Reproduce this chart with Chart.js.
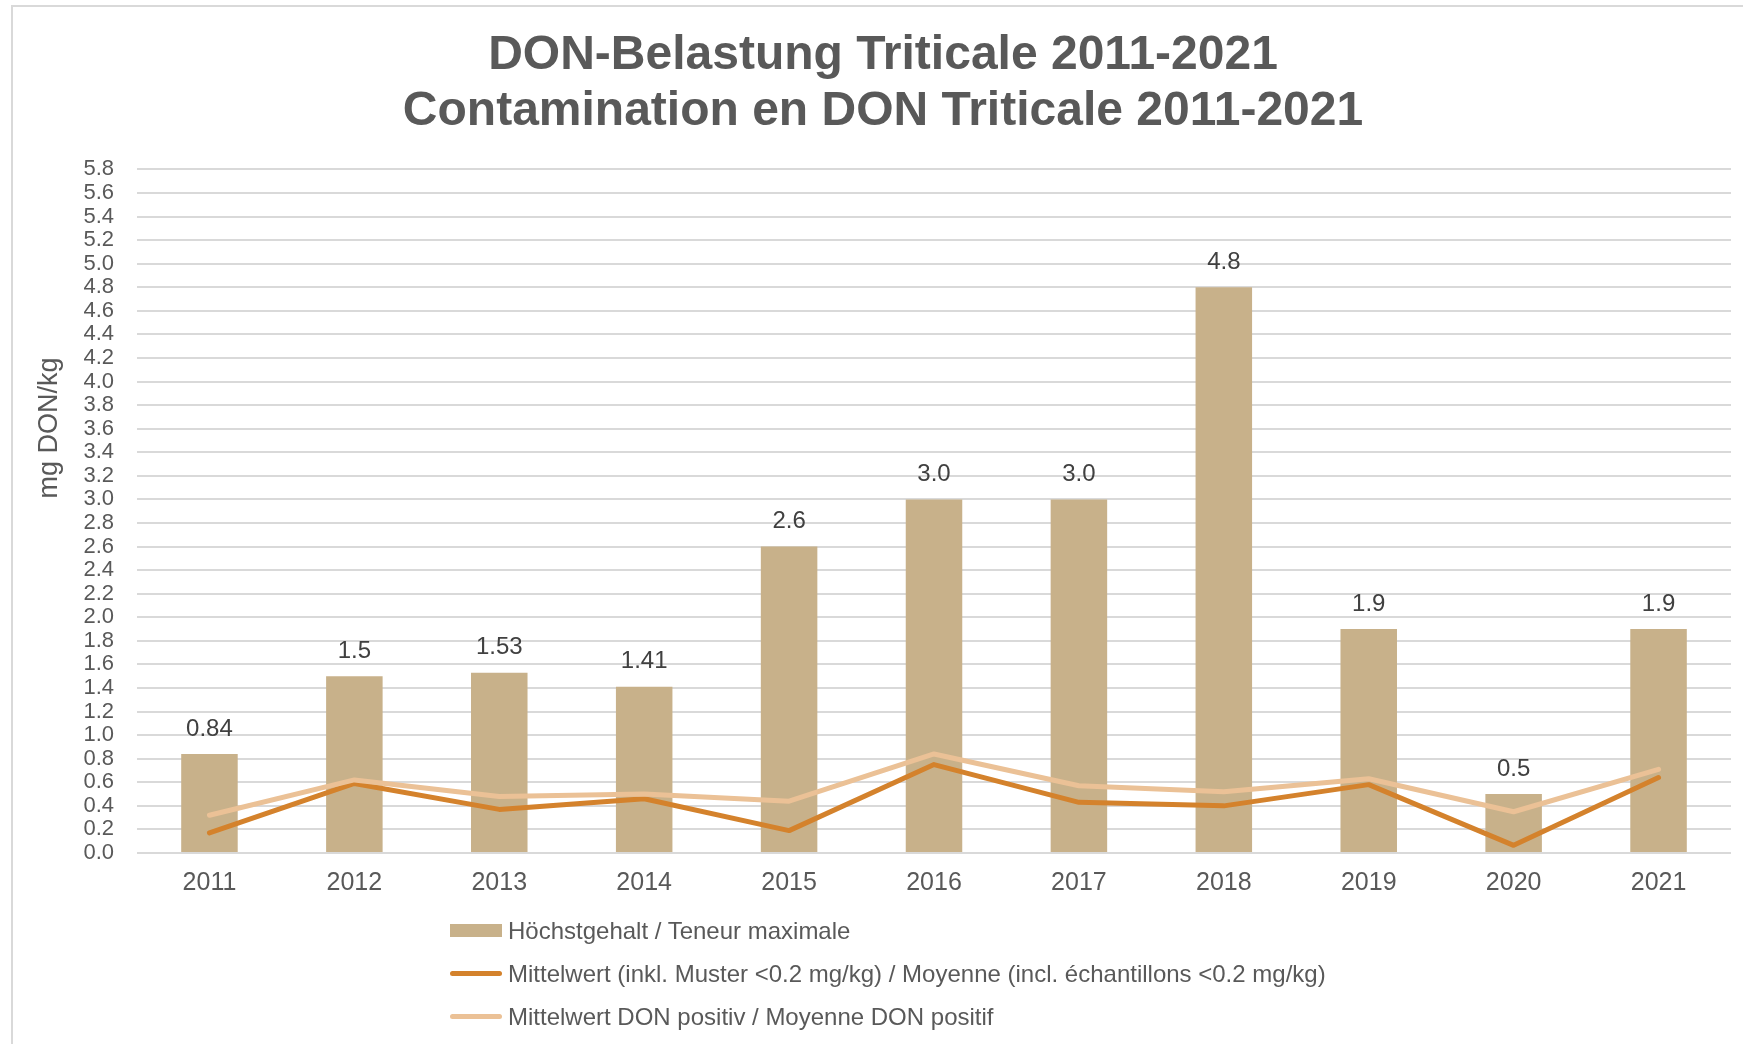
<!DOCTYPE html>
<html>
<head>
<meta charset="utf-8">
<script src="https://cdn.jsdelivr.net/npm/chart.js@4.4.1/dist/chart.umd.min.js"></script>
<style>
  html, body { margin: 0; padding: 0; background: #fff; }
  body { width: 1743px; height: 1044px; position: relative; overflow: hidden; font-family: "Liberation Sans", Arial, sans-serif; }
  #frame { position: absolute; left: 11px; top: 5px; right: -10px; bottom: -10px; border-left: 2px solid #D9D9D9; border-top: 2px solid #D9D9D9; }
  #chart { position: absolute; left: 0; top: 0; }
  #legend { position: absolute; left: 450px; top: 909px; color: #595959; font-size: 24px; }
  .item { display: flex; align-items: center; height: 43px; }
  .swatch { width: 52px; margin-right: 6px; }
</style>
</head>
<body>
<div id="frame"></div>
<canvas id="chart" width="1743" height="1044"></canvas>
<div id="legend"></div>
<script>
// data
const years = ['2011', '2012', '2013', '2014', '2015', '2016', '2017', '2018', '2019', '2020', '2021'];
const maxValues = [0.84, 1.5, 1.53, 1.41, 2.6, 3.0, 3.0, 4.8, 1.9, 0.5, 1.9];
const meanAll = [0.17, 0.59, 0.37, 0.46, 0.19, 0.75, 0.43, 0.40, 0.58, 0.065, 0.64];
const meanPositive = [0.32, 0.62, 0.48, 0.50, 0.44, 0.84, 0.57, 0.52, 0.63, 0.35, 0.71];
const yMin = 0;
const yMax = 5.8;
const yStep = 0.2;
const yTitle = 'mg DON/kg';

const barColor = '#C8B18A';
const darkLine = '#D4822C';
const lightLine = '#EBC196';
const textColor = '#595959';
const fontFamily = '"Liberation Sans", Arial, sans-serif';

// value labels above bars
const barLabels = {
  id: 'barLabels',
  afterDatasetsDraw(chart) {
    const ctx = chart.ctx;
    const meta = chart.getDatasetMeta(0);
    ctx.save();
    ctx.font = '24px ' + fontFamily;
    ctx.fillStyle = '#404040';
    ctx.textAlign = 'center';
    ctx.textBaseline = 'middle';
    meta.data.forEach(function (bar, i) {
      const v = maxValues[i];
      const s = (Math.round(v * 10) === v * 10) ? v.toFixed(1) : v.toFixed(2);
      ctx.fillText(s, bar.x, bar.y - 25);
    });
    ctx.restore();
  }
};

// y axis title sits higher than the middle of the axis in the original
const axisTitle = {
  id: 'axisTitle',
  afterDraw(chart) {
    const ctx = chart.ctx;
    ctx.save();
    ctx.translate(50, 428);
    ctx.rotate(-Math.PI / 2);
    ctx.font = '27px ' + fontFamily;
    ctx.fillStyle = textColor;
    ctx.textAlign = 'center';
    ctx.textBaseline = 'middle';
    ctx.fillText(yTitle, 0, 0);
    ctx.restore();
  }
};

const chart = new Chart(document.getElementById('chart'), {
  type: 'bar',
  data: {
    labels: years,
    datasets: [
      {
        type: 'bar',
        label: 'Höchstgehalt / Teneur maximale',
        data: maxValues,
        backgroundColor: barColor,
        categoryPercentage: 1,
        barPercentage: 0.39,
        order: 3
      },
      {
        type: 'line',
        label: 'Mittelwert (inkl. Muster <0.2 mg/kg) / Moyenne (incl. échantillons <0.2 mg/kg)',
        data: meanAll,
        borderColor: darkLine,
        backgroundColor: darkLine,
        borderWidth: 5,
        pointRadius: 0,
        tension: 0,
        borderCapStyle: 'round',
        borderJoinStyle: 'round',
        order: 2
      },
      {
        type: 'line',
        label: 'Mittelwert DON positiv / Moyenne DON positif',
        data: meanPositive,
        borderColor: lightLine,
        backgroundColor: lightLine,
        borderWidth: 5,
        pointRadius: 0,
        tension: 0,
        borderCapStyle: 'round',
        borderJoinStyle: 'round',
        order: 1
      }
    ]
  },
  options: {
    responsive: false,
    animation: false,
    layout: { padding: { left: 35, right: 12, top: 28, bottom: 131 } },
    plugins: {
      legend: { display: false },
      tooltip: { enabled: false },
      title: {
        display: true,
        text: ['DON-Belastung Triticale 2011-2021', 'Contamination en DON Triticale 2011-2021'],
        color: textColor,
        font: { family: fontFamily, size: 48, weight: 'bold', lineHeight: 1.16 },
        padding: { top: 0, bottom: 30 }
      }
    },
    scales: {
      x: {
        grid: { display: false, drawTicks: false },
        border: { display: false },
        ticks: { color: textColor, padding: 15, font: { family: fontFamily, size: 25 } }
      },
      y: {
        min: yMin,
        max: yMax,
        border: { display: false },
        grid: { color: '#D9D9D9', lineWidth: 2, drawTicks: false },
        afterFit: function (scale) { scale.width = 102; },
        ticks: {
          stepSize: yStep,
          autoSkip: false,
          color: textColor,
          padding: 23,
          font: { family: fontFamily, size: 22 },
          callback: function (v) { return Number(v).toFixed(1); }
        }
      }
    }
  },
  plugins: [barLabels, axisTitle]
});

// legend, one entry per row
const legend = document.getElementById('legend');
chart.data.datasets.forEach(function (ds) {
  const row = document.createElement('div');
  row.className = 'item';
  const sw = document.createElement('div');
  sw.className = 'swatch';
  if (ds.type === 'bar') {
    sw.style.height = '13px';
    sw.style.background = ds.backgroundColor;
  } else {
    sw.style.height = '5px';
    sw.style.borderRadius = '3px';
    sw.style.background = ds.borderColor;
  }
  const txt = document.createElement('span');
  txt.textContent = ds.label;
  row.appendChild(sw);
  row.appendChild(txt);
  legend.appendChild(row);
});
</script>
</body>
</html>
